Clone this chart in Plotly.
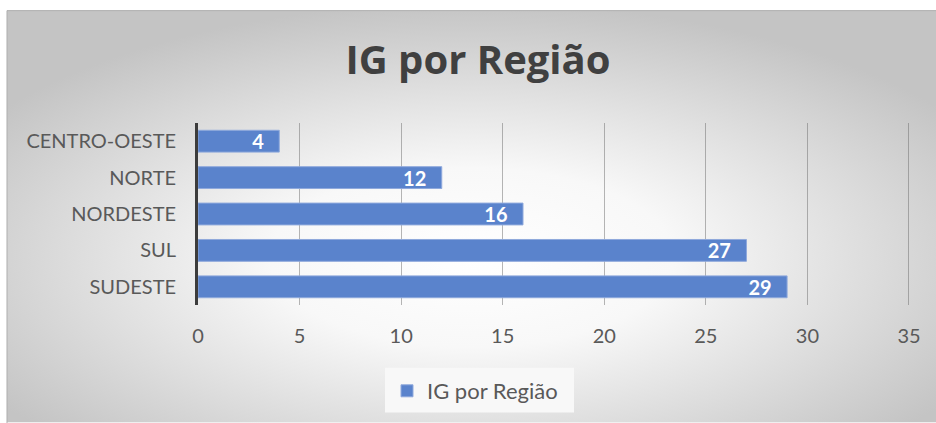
import base64
import plotly.graph_objects as go

# ---- data ----
regions = ["CENTRO-OESTE", "NORTE", "NORDESTE", "SUL", "SUDESTE"]
ig_values = [4, 12, 16, 27, 29]
series_name = "IG por Região"
chart_title = "IG por Região"
x_ticks = [0, 5, 10, 15, 20, 25, 30, 35]

# ---- geometry (pixels) ----
W, H = 936, 423
L, R, T, B = 198, 911, 123, 306  # plot area


def px(x):
    return (x - L) / (R - L)


def py(y):
    return (B - y) / (B - T)


svg = (
    '<svg xmlns="http://www.w3.org/2000/svg" width="930" height="413" '
    'preserveAspectRatio="none" viewBox="0 0 930 413">'
    '<defs><radialGradient id="g" cx="0.5" cy="0.6" r="0.62" '
    'gradientUnits="objectBoundingBox">'
    '<stop offset="0" stop-color="#ffffff"/>'
    '<stop offset="0.35" stop-color="#f8f8f8"/>'
    '<stop offset="1" stop-color="#c4c4c4"/>'
    '</radialGradient></defs>'
    '<rect width="930" height="413" fill="url(#g)"/></svg>'
)
bg_uri = "data:image/svg+xml;base64," + base64.b64encode(svg.encode()).decode()

fig = go.Figure()
fig.add_trace(go.Bar(
    y=regions,
    x=ig_values,
    orientation="h",
    name=series_name,
    marker=dict(color="#5a83cc", line=dict(color="#8fa9dc", width=1)),
    width=0.6,
    text=ig_values,
    texttemplate="%{x}\u2002\u2009",
    textposition="inside",
    insidetextanchor="end",
    textangle=0,
    textfont=dict(family="Lato", size=20, color="white", weight="bold"),
    showlegend=True,
))

fig.update_layout(
    width=W, height=H,
    margin=dict(l=L, r=W - R, t=T, b=H - B),
    paper_bgcolor="white",
    plot_bgcolor="rgba(0,0,0,0)",
    font=dict(family="Lato", size=20, color="#595959"),
    uniformtext=dict(minsize=20, mode="show"),
    title=dict(
        text=chart_title,
        x=478 / W, xanchor="center",
        y=1 - 59.5 / H, yanchor="middle",
        xref="container", yref="container",
        font=dict(family="Open Sans", size=40, color="#404040", weight="bold"),
    ),
    xaxis=dict(
        range=[0, 35.1],
        tickvals=x_ticks,
        showgrid=True,
        gridcolor="rgba(110,110,110,0.5)",
        gridwidth=1.2,
        zeroline=False,
        showline=False,
        ticks="",
        ticklabelstandoff=17,
        tickfont=dict(family="Lato", size=20, color="#595959"),
    ),
    yaxis=dict(
        autorange="reversed",
        showgrid=False,
        showline=True,
        linecolor="#3c3c3c",
        linewidth=3,
        ticks="",
        ticklabelstandoff=15,
        tickfont=dict(family="Lato", size=20, color="#595959"),
    ),
    legend=dict(
        orientation="h",
        x=px(387), xanchor="left",
        y=py(391), yanchor="middle",
        bgcolor="rgba(0,0,0,0)",
        font=dict(family="Lato", size=22, color="#595959"),
        itemwidth=30,
    ),
    bargap=0.4,
    images=[dict(
        source=bg_uri,
        xref="paper", yref="paper",
        x=px(7), y=py(10),
        sizex=px(W + 1) - px(7), sizey=py(10) - py(H + 1),
        xanchor="left", yanchor="top",
        sizing="stretch",
        layer="below",
    )],
    shapes=[
        dict(type="rect", xref="paper", yref="paper",
             x0=px(7), x1=px(W + 2), y0=py(H + 2), y1=py(10),
             line=dict(color="#adadad", width=1), fillcolor="rgba(0,0,0,0)",
             layer="below"),
        dict(type="rect", xref="paper", yref="paper",
             x0=px(385), x1=px(574), y0=py(414), y1=py(369),
             line=dict(width=0), fillcolor="#f8f8f8", layer="below"),
    ],
)

fig.write_html("out.html", config={"displayModeBar": False},
               post_script="document.body.style.margin='0px';")
